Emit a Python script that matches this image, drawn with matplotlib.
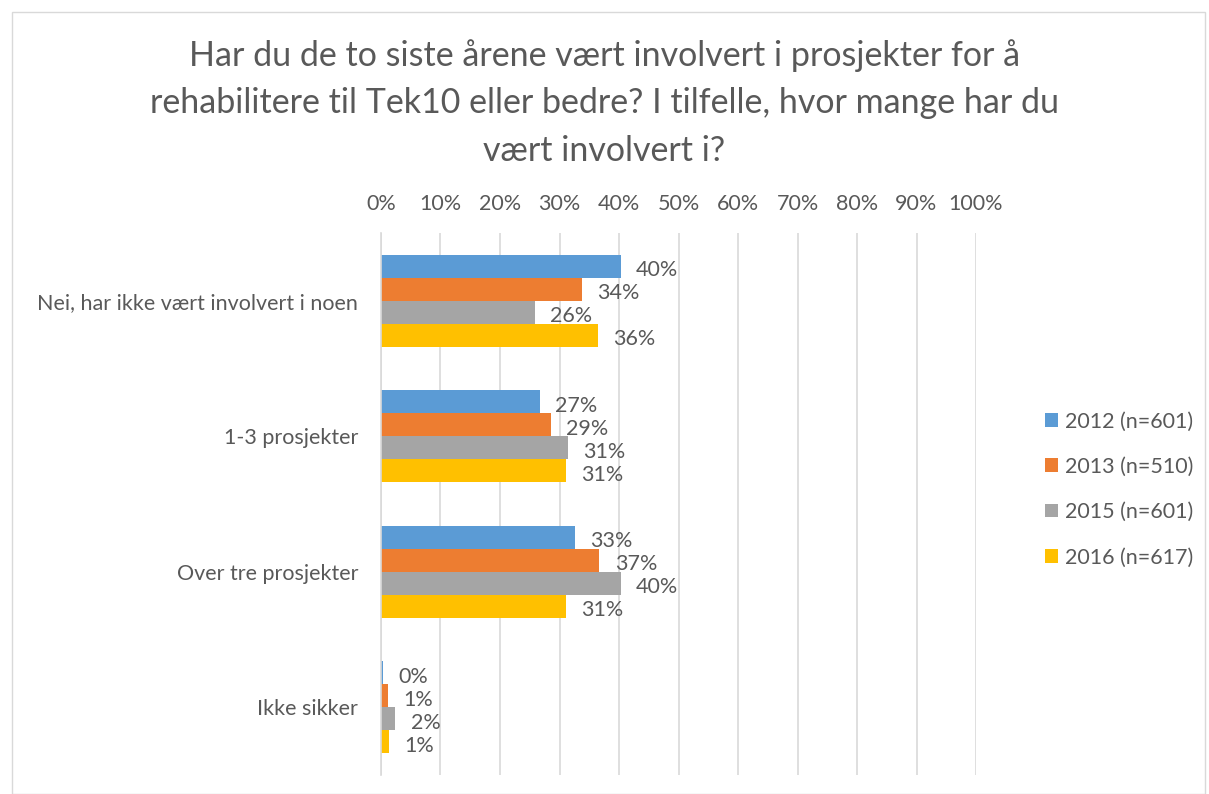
import numpy as np
import matplotlib.pyplot as plt
from matplotlib.patches import Rectangle

plt.rcParams['font.family'] = ['Lato', 'DejaVu Sans']

categories = ["Nei, har ikke vært involvert i noen", "1-3 prosjekter",
              "Over tre prosjekter", "Ikke sikker"]
series = ["2012 (n=601)", "2013 (n=510)", "2015 (n=601)", "2016 (n=617)"]
v2012 = [0.403, 0.267, 0.326, 0.003]
v2013 = [0.338, 0.286, 0.367, 0.012]
v2015 = [0.259, 0.314, 0.403, 0.024]
v2016 = [0.365, 0.311, 0.311, 0.013]
values = [v2012, v2013, v2015, v2016]
colors = ["#5B9BD5", "#ED7D31", "#A5A5A5", "#FFC000"]
ticks = np.arange(0, 1.01, 0.1)
title = ("Har du de to siste årene vært involvert i prosjekter for å\n"
         "rehabilitere til Tek10 eller bedre? I tilfelle, hvor mange har du\n"
         "vært involvert i?")

txt = "#595959"
fs = 15.5
fig = plt.figure(figsize=(12.09, 7.94), dpi=100)
ax = fig.add_axes([381 / 1209, 1 - 775 / 794, 595 / 1209, 542 / 794])

bh = 23 / 135.5
y = np.arange(len(categories))
for i, (vals, c, name) in enumerate(zip(values, colors, series)):
    pos = y - 1.5 * bh + i * bh
    ax.barh(pos, vals, height=bh, color=c, label=name, zorder=3)
    for p, v in zip(pos, vals):
        ax.annotate(f"{v * 100:.0f}%", (v, p), xytext=(11, -3),
                    textcoords="offset points", va="center", ha="left",
                    fontsize=fs, color=txt, zorder=4)

ax.set_ylim(3.5, -0.5)
ax.set_xlim(0, 1)
ax.set_xticks(ticks)
ax.set_xticklabels([f"{t * 100:.0f}%" for t in ticks], fontsize=fs, color=txt)
ax.xaxis.tick_top()
ax.tick_params(axis='x', length=0, pad=14)
ax.set_yticks(y)
ax.set_yticklabels(categories, fontsize=fs, color=txt)
ax.tick_params(axis='y', length=0, pad=16.5)
ax.grid(axis='x', color="#D9D9D9", linewidth=1.2, zorder=0)
for s in ["top", "right", "bottom"]:
    ax.spines[s].set_visible(False)
ax.spines["left"].set_color("#D9D9D9")
ax.spines["left"].set_linewidth(1.2)
ax.spines["left"].set_zorder(5)

leg = fig.legend(loc="upper left", bbox_to_anchor=(1026 / 1209, 1 - 392 / 794),
                 frameon=False, fontsize=fs, handlelength=0.6, handleheight=0.6,
                 labelspacing=1.18, handletextpad=0.3)
for t in leg.get_texts():
    t.set_color(txt)

fig.text(0.5, 1 - 103 / 794, title, ha="center", va="center", fontsize=24.5,
         color=txt, linespacing=1.6)

fig.patches.append(Rectangle((12 / 1209, 0.0), 1 - 16 / 1209, 1 - 12 / 794,
                             transform=fig.transFigure, fill=False,
                             edgecolor="#D9D9D9", linewidth=1))

fig.savefig("out.png", dpi=100)
